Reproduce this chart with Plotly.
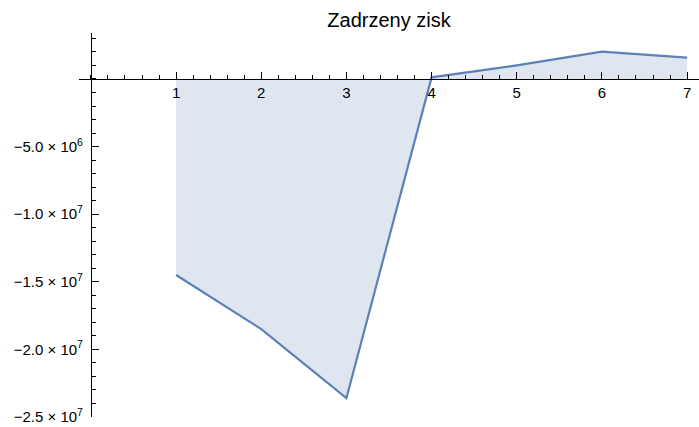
import plotly.graph_objects as go

# Retained earnings per period
periods = [1, 2, 3, 4, 5, 6, 7]
zisk = [-1.45e7, -1.85e7, -2.36e7, 1.2e5, 1.0e6, 2.02e6, 1.58e6]

x_tick_vals = [1, 2, 3, 4, 5, 6, 7]
x_tick_text = ["1", "2", "3", "4", "5", "6", "7"]
y_tick_vals = [-5e6, -1e7, -1.5e7, -2e7, -2.5e7]
y_tick_text = [
    "\u22125.0 \u00d7 10<sup>6</sup>",
    "\u22121.0 \u00d7 10<sup>7</sup>",
    "\u22121.5 \u00d7 10<sup>7</sup>",
    "\u22122.0 \u00d7 10<sup>7</sup>",
    "\u22122.5 \u00d7 10<sup>7</sup>",
]

x_range = [-0.14, 7.14]
y_range = [-2.5e7, 3.4e6]

line_color = "#5e81b5"
font_family = "Liberation Sans, Arial, sans-serif"

fig = go.Figure(
    go.Scatter(
        x=periods,
        y=zisk,
        mode="lines",
        line=dict(color=line_color, width=2.2),
        fill="tozeroy",
        fillcolor="rgba(94,129,181,0.2)",
        hoverinfo="skip",
    )
)

# axes cross at the origin
x_pos = (0 - y_range[0]) / (y_range[1] - y_range[0])
y_pos = (0 - x_range[0]) / (x_range[1] - x_range[0])

fig.update_layout(
    width=699,
    height=427,
    margin=dict(l=79, r=0, t=33, b=10),
    paper_bgcolor="white",
    plot_bgcolor="white",
    showlegend=False,
    font=dict(family=font_family, color="black", size=15),
    title=dict(
        text="Zadrzeny zisk",
        x=0.5,
        xref="paper",
        xanchor="center",
        y=1 - 20 / 427,
        yref="container",
        yanchor="middle",
        font=dict(family=font_family, size=20, color="black"),
    ),
    xaxis=dict(
        range=x_range,
        anchor="free",
        position=x_pos,
        showline=True,
        linecolor="black",
        linewidth=1,
        ticks="inside",
        ticklen=7,
        tickwidth=1,
        tickcolor="black",
        tickmode="array",
        tickvals=x_tick_vals,
        ticktext=x_tick_text,
        tickfont=dict(size=15, color="black"),
        ticklabelstandoff=0,
        minor=dict(ticks="inside", ticklen=4, tickwidth=1, tickcolor="black", dtick=0.2, tick0=0, showgrid=False),
        showgrid=False,
        zeroline=False,
    ),
    yaxis=dict(
        range=y_range,
        anchor="free",
        position=y_pos,
        showline=True,
        linecolor="black",
        linewidth=1,
        ticks="inside",
        ticklen=7,
        tickwidth=1,
        tickcolor="black",
        tickmode="array",
        tickvals=y_tick_vals,
        ticktext=y_tick_text,
        tickfont=dict(size=15, color="black"),
        ticklabelstandoff=5,
        minor=dict(ticks="inside", ticklen=4, tickwidth=1, tickcolor="black", dtick=1e6, tick0=0, showgrid=False),
        showgrid=False,
        zeroline=False,
    ),
)

fig.write_html("out.html")
